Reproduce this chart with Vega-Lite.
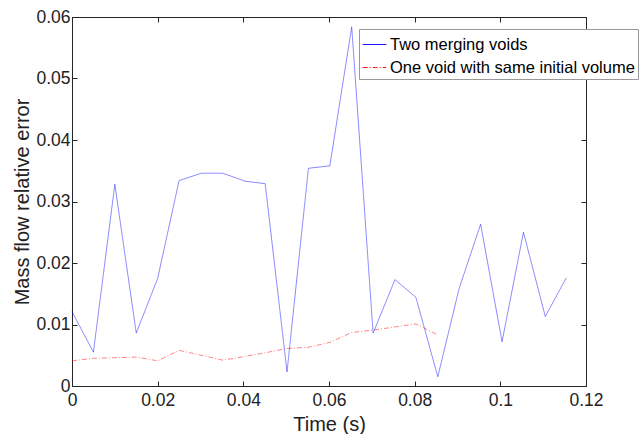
{
  "$schema": "https://vega.github.io/schema/vega-lite/v6.json",
  "width": 514,
  "height": 369,
  "autosize": "none",
  "padding": {"left": 72, "top": 17, "right": 53, "bottom": 48},
  "background": "white",
  "config": {
    "font": "Liberation Sans",
    "view": {"stroke": null},
    "axis": {
      "domainColor": "#262626",
      "tickColor": "#262626",
      "tickSize": -5,
      "grid": false,
      "labelFont": "Liberation Sans",
      "labelFontSize": 17.5,
      "labelColor": "#222222",
      "titleFont": "Liberation Sans",
      "titleFontSize": 20,
      "titleFontWeight": "normal",
      "titleColor": "#222222"
    }
  },
  "data": {
    "values": [
      {"t": 0, "v": 0.0121, "series": "Two merging voids"},
      {"t": 0.005, "v": 0.0055, "series": "Two merging voids"},
      {"t": 0.01, "v": 0.0328, "series": "Two merging voids"},
      {"t": 0.015, "v": 0.0086, "series": "Two merging voids"},
      {"t": 0.02, "v": 0.0175, "series": "Two merging voids"},
      {"t": 0.025, "v": 0.0334, "series": "Two merging voids"},
      {"t": 0.0302, "v": 0.0346, "series": "Two merging voids"},
      {"t": 0.0352, "v": 0.0346, "series": "Two merging voids"},
      {"t": 0.0404, "v": 0.0333, "series": "Two merging voids"},
      {"t": 0.0451, "v": 0.0329, "series": "Two merging voids"},
      {"t": 0.0502, "v": 0.0023, "series": "Two merging voids"},
      {"t": 0.0552, "v": 0.0354, "series": "Two merging voids"},
      {"t": 0.0602, "v": 0.0358, "series": "Two merging voids"},
      {"t": 0.0653, "v": 0.0584, "series": "Two merging voids"},
      {"t": 0.0703, "v": 0.0086, "series": "Two merging voids"},
      {"t": 0.0754, "v": 0.0173, "series": "Two merging voids"},
      {"t": 0.0803, "v": 0.0144, "series": "Two merging voids"},
      {"t": 0.0854, "v": 0.0015, "series": "Two merging voids"},
      {"t": 0.0904, "v": 0.0159, "series": "Two merging voids"},
      {"t": 0.0954, "v": 0.0263, "series": "Two merging voids"},
      {"t": 0.1004, "v": 0.0072, "series": "Two merging voids"},
      {"t": 0.1054, "v": 0.025, "series": "Two merging voids"},
      {"t": 0.1105, "v": 0.0113, "series": "Two merging voids"},
      {"t": 0.1154, "v": 0.0176, "series": "Two merging voids"},
      {"t": 0, "v": 0.0041, "series": "One void with same initial volume"},
      {"t": 0.005, "v": 0.0045, "series": "One void with same initial volume"},
      {"t": 0.01, "v": 0.0046, "series": "One void with same initial volume"},
      {"t": 0.015, "v": 0.0047, "series": "One void with same initial volume"},
      {"t": 0.02, "v": 0.0041, "series": "One void with same initial volume"},
      {"t": 0.025, "v": 0.0058, "series": "One void with same initial volume"},
      {"t": 0.0302, "v": 0.005, "series": "One void with same initial volume"},
      {"t": 0.0352, "v": 0.0042, "series": "One void with same initial volume"},
      {"t": 0.0404, "v": 0.0048, "series": "One void with same initial volume"},
      {"t": 0.0451, "v": 0.0054, "series": "One void with same initial volume"},
      {"t": 0.0502, "v": 0.0061, "series": "One void with same initial volume"},
      {"t": 0.0552, "v": 0.0063, "series": "One void with same initial volume"},
      {"t": 0.0602, "v": 0.0071, "series": "One void with same initial volume"},
      {"t": 0.0653, "v": 0.0087, "series": "One void with same initial volume"},
      {"t": 0.0703, "v": 0.0091, "series": "One void with same initial volume"},
      {"t": 0.0754, "v": 0.0096, "series": "One void with same initial volume"},
      {"t": 0.0803, "v": 0.0101, "series": "One void with same initial volume"},
      {"t": 0.0854, "v": 0.0083, "series": "One void with same initial volume"}
    ]
  },
  "layer": [
    {
      "mark": {"type": "line", "strokeWidth": 0.8, "opacity": 0.6},
      "encoding": {
        "x": {
          "field": "t", "type": "quantitative",
          "scale": {"domain": [0, 0.12], "nice": false},
          "axis": {"title": "Time (s)", "values": [0, 0.02, 0.04, 0.06, 0.08, 0.1, 0.12], "format": ".2~f", "labelPadding": 10, "titlePadding": 6, "labelFlush": false}
        },
        "y": {
          "field": "v", "type": "quantitative",
          "scale": {"domain": [0, 0.06], "nice": false},
          "axis": {"title": "Mass flow relative error", "values": [0, 0.01, 0.02, 0.03, 0.04, 0.05, 0.06], "format": ".2~f", "labelPadding": 7, "titlePadding": 3, "labelFlush": false}
        },
        "color": {
          "field": "series", "type": "nominal",
          "scale": {"domain": ["Two merging voids", "One void with same initial volume"], "range": ["#0000ff", "#ff0000"]},
          "legend": {
            "title": null,
            "orient": "none",
            "legendX": 287,
            "legendY": 12,
            "direction": "vertical",
            "fillColor": "white",
            "strokeColor": "#999999",
            "padding": 3,
            "rowPadding": 2,
            "labelFont": "Liberation Sans",
            "labelFontSize": 16.5,
            "labelColor": "#000000",
            "labelLimit": 400,
            "labelOffset": 3,
            "symbolType": "stroke",
            "symbolSize": 560,
            "symbolStrokeWidth": 1.2,
            "symbolOpacity": 0.9
          }
        },
        "strokeDash": {
          "field": "series", "type": "nominal",
          "scale": {"domain": ["Two merging voids", "One void with same initial volume"], "range": [[1, 0], [5, 2, 1, 2]]},
          "legend": null
        }
      }
    },
    {
      "mark": {"type": "line", "opacity": 0},
      "encoding": {
        "x": {
          "field": "t", "type": "quantitative",
          "scale": {"domain": [0, 0.12], "nice": false},
          "axis": {"orient": "top", "title": null, "labels": false, "values": [0, 0.02, 0.04, 0.06, 0.08, 0.1, 0.12]}
        },
        "y": {
          "field": "v", "type": "quantitative",
          "scale": {"domain": [0, 0.06], "nice": false},
          "axis": {"orient": "right", "title": null, "labels": false, "values": [0, 0.01, 0.02, 0.03, 0.04, 0.05, 0.06]}
        },
        "detail": {"field": "series", "type": "nominal"}
      }
    }
  ],
  "resolve": {"axis": {"x": "independent", "y": "independent"}}
}
